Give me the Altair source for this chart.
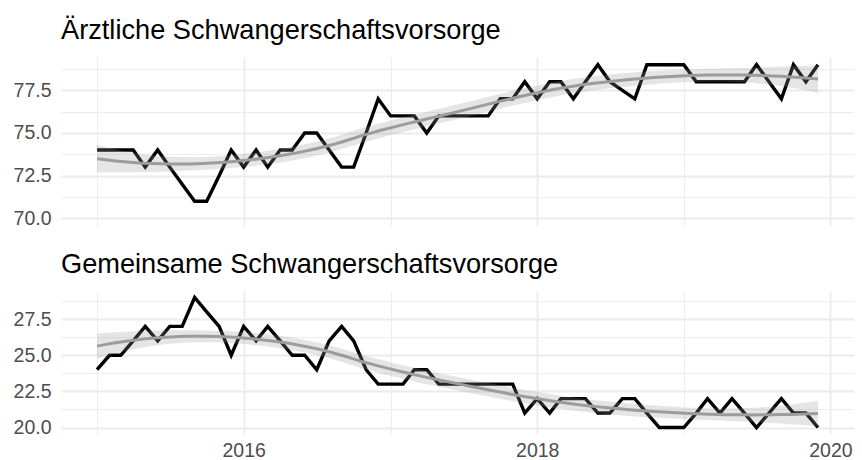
import numpy as np
import pandas as pd
import altair as alt

# ---- data (monthly, Jan 2015 - Dec 2019) ----
months = pd.date_range("2015-01-01", periods=60, freq="MS")
dates = [d.strftime("%Y-%m-%d") for d in months]

aerztlich = [74, 74, 74, 74, 73, 74, 73, 72, 71, 71,
             72.5, 74, 73, 74, 73, 74, 74, 75, 75, 74,
             73, 73, 75, 77, 76, 76, 76, 75, 76, 76,
             76, 76, 76, 77, 77, 78, 77, 78, 78, 77,
             78, 79, 78, 77.5, 77, 79, 79, 79, 79, 78,
             78, 78, 78, 78, 79, 78, 77, 79, 78, 79]

gemeinsam = [24, 25, 25, 26, 27, 26, 27, 27, 29, 28,
             27, 25, 27, 26, 27, 26, 25, 25, 24, 26,
             27, 26, 24, 23, 23, 23, 24, 24, 23, 23,
             23, 23, 23, 23, 23, 21, 22, 21, 22, 22,
             22, 21, 21, 22, 22, 21, 20, 20, 20, 21,
             22, 21, 22, 21, 20, 21, 22, 21, 21, 20]

titles = ["Ärztliche Schwangerschaftsvorsorge", "Gemeinsame Schwangerschaftsvorsorge"]
y_ticks_top = [70, 71.25, 72.5, 73.75, 75, 76.25, 77.5, 78.75]
y_ticks_bottom = [20, 21.25, 22.5, 23.75, 25, 26.25, 27.5, 28.75]
year_ticks = [2015, 2016, 2017, 2018, 2019, 2020]

FONT = "Liberation Sans"
GRID = "#ebebeb"
LABEL = "#4d4d4d"

# ---- loess (degree 2, span 0.75) with standard errors, like geom_smooth ----
xd = np.array([(d - months[0]).days for d in months], dtype=float)


def loess_rows(x, x0s, span=0.75):
    n = len(x)
    q = int(np.floor(n * span))
    rows = []
    for x0 in x0s:
        d = np.abs(x - x0)
        h = np.sort(d)[q - 1] * 1.0000001
        w = np.clip(1 - (d / h) ** 3, 0, None) ** 3
        X = np.column_stack([np.ones(n), x - x0, (x - x0) ** 2])
        XtW = X.T * w
        A = np.linalg.solve(XtW @ X, XtW)
        rows.append(A[0])
    return np.array(rows)


def t975(df):
    z = 1.959964
    return z + (z ** 3 + z) / (4 * df) + (5 * z ** 5 + 16 * z ** 3 + 3 * z) / (96 * df ** 2)


def smooth(vals):
    y = np.array(vals, dtype=float)
    n = len(y)
    L = loess_rows(xd, xd)
    R = np.eye(n) - L
    RR = R.T @ R
    d1 = np.trace(RR)
    d2 = np.trace(RR @ RR)
    sigma = np.sqrt(np.sum((R @ y) ** 2) / d1)
    xs = np.linspace(xd.min(), xd.max(), 80)
    Ls = loess_rows(xd, xs)
    fit = Ls @ y
    se = sigma * np.sqrt(np.sum(Ls ** 2, axis=1))
    t = t975(d1 ** 2 / d2)
    ds = [(months[0] + pd.Timedelta(days=float(v))).strftime("%Y-%m-%dT%H:%M:%SZ") for v in xs]
    return pd.DataFrame({"date": ds, "fit": fit, "lo": fit - t * se, "hi": fit + t * se})


x_domain = [alt.DateTime(year=2014, month=10, date=3, hours=6, utc=True),
            alt.DateTime(year=2020, month=2, date=28, hours=18, utc=True)]
x_values = [alt.DateTime(year=yy, month=1, date=1, utc=True) for yy in year_ticks]


def panel(title, vals, yticks, ydom, height, bottom):
    df = pd.DataFrame({"date": dates, "v": vals})
    sm = smooth(vals)

    xaxis = alt.Axis(
        values=x_values, title=None, grid=True, gridColor=GRID,
        gridWidth={"condition": {"test": "utcyear(datum.value) % 2 == 0", "value": 1.8}, "value": 0.9},
        labels=bottom, ticks=False, tickSize=0, domain=False,
        labelExpr="utcyear(datum.value) % 2 == 0 ? utcFormat(datum.value, '%Y') : ''",
        labelFontSize=19.5, labelColor=LABEL, labelFont=FONT, labelPadding=7,
        labelOverlap=False, labelFlush=False,
    )
    xscale = alt.Scale(type="utc", domain=x_domain, nice=False)
    yaxis = alt.Axis(
        values=yticks, title=None, grid=True, gridColor=GRID,
        gridWidth={"condition": {"test": "abs(datum.value/2.5 - round(datum.value/2.5)) < 0.001", "value": 1.8}, "value": 0.9},
        ticks=False, tickSize=0, domain=False,
        labelExpr="abs(datum.value/2.5 - round(datum.value/2.5)) < 0.001 ? format(datum.value, '.1f') : ''",
        labelFontSize=19.5, labelColor=LABEL, labelFont=FONT, labelPadding=10,
        labelOverlap=False,
    )
    yscale = alt.Scale(domain=ydom, nice=False, zero=False)

    line = alt.Chart(df).mark_line(color="black", strokeWidth=3.4).encode(
        x=alt.X("date:T", scale=xscale, axis=xaxis),
        y=alt.Y("v:Q", scale=yscale, axis=yaxis),
    )
    band = alt.Chart(sm).mark_area(color="#999999", opacity=0.25).encode(
        x=alt.X("date:T", scale=xscale, axis=xaxis),
        y=alt.Y("lo:Q", scale=yscale, axis=yaxis),
        y2="hi:Q",
    )
    fitline = alt.Chart(sm).mark_line(color="#9c9c9c", strokeWidth=3).encode(
        x=alt.X("date:T", scale=xscale, axis=xaxis),
        y=alt.Y("fit:Q", scale=yscale, axis=yaxis),
    )
    return alt.layer(line, band, fitline).properties(
        width=793, height=height,
        title=alt.TitleParams(text=title, anchor="start", frame="group", fontSize=27.2,
                              font=FONT, fontWeight="normal", color="black", offset=12),
    )


top = panel(titles[0], aerztlich, y_ticks_top, [69.55, 79.45], 169, False)
bot = panel(titles[1], gemeinsam, y_ticks_bottom, [19.55, 29.45], 143, True)

chart = alt.vconcat(top, bot, spacing=22).configure(
    padding={"top": 8, "left": 5, "right": 0, "bottom": 0}
).configure_view(stroke=None)

chart.save("out.html", embed_options={"renderer": "svg", "actions": False})
